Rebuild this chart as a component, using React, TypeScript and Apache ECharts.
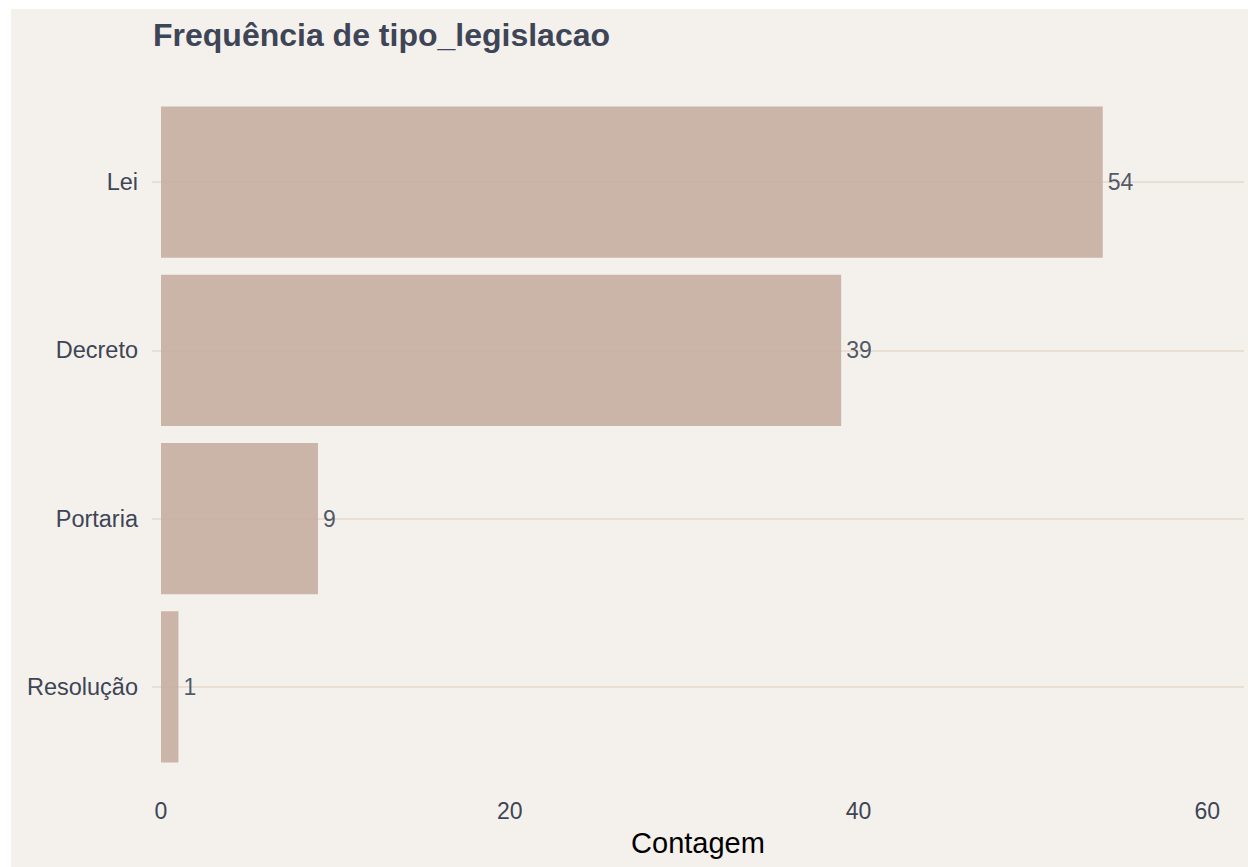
import React, { useEffect, useRef } from "react";
import * as echarts from "echarts";

const categories = ["Lei", "Decreto", "Portaria", "Resolução"];
const counts = [54, 39, 9, 1];
const xTickValues = [0, 20, 40, 60];
const titleText = "Frequência de tipo_legislacao";
const xAxisTitle = "Contagem";

const FONT = "'Liberation Sans', Arial, Helvetica, sans-serif";
const TEXT = "#3D4556";

export default function App() {
  const ref = useRef<HTMLDivElement>(null);
  useEffect(() => {
    if (!ref.current) return;
    const chart = echarts.init(ref.current, null, { renderer: "svg" });
    chart.setOption({
      animation: false,
      backgroundColor: "#F4F1EC",
      textStyle: { fontFamily: FONT },
      title: {
        text: titleText,
        left: 142,
        top: 10,
        padding: 0,
        textStyle: { fontFamily: FONT, fontSize: 32, fontWeight: "bold", color: TEXT, lineHeight: 32 },
      },
      grid: { left: 141, right: 4, top: 89, bottom: 96, containLabel: false },
      xAxis: {
        type: "value",
        min: -0.516,
        max: 62.1,
        name: xAxisTitle,
        nameLocation: "middle",
        nameGap: 57,
        nameTextStyle: { fontFamily: FONT, fontSize: 29, color: "#000000", lineHeight: 29 },
        axisLine: { show: false },
        axisTick: { show: false },
        splitLine: { show: false },
        axisLabel: {
          customValues: xTickValues,
          fontFamily: FONT,
          fontSize: 23,
          lineHeight: 23,
          color: TEXT,
          margin: 28,
        },
      },
      yAxis: {
        type: "category",
        data: categories,
        inverse: true,
        axisLine: { show: false },
        axisTick: { show: false },
        splitLine: { show: false },
        axisLabel: { fontFamily: FONT, fontSize: 23.5, color: TEXT, margin: 14 },
      },
      series: [
        {
          type: "line",
          data: [],
          z: 1,
          silent: true,
          markLine: {
            silent: true,
            z: 1,
            symbol: "none",
            label: { show: false },
            lineStyle: { color: "#EADFD5", width: 2, type: "solid" },
            data: categories.map((c) => ({ yAxis: c })),
          },
        },
        {
          type: "bar",
          data: counts,
          z: 3,
          barCategoryGap: "10%",
          itemStyle: { color: "#C7AEA1", opacity: 0.9 },
          label: {
            show: true,
            position: "right",
            distance: 5,
            fontFamily: FONT,
            fontSize: 23,
            color: TEXT,
          },
        },
      ],
    });
    return () => chart.dispose();
  }, []);
  return (
    <div
      ref={ref}
      style={{ position: "absolute", left: 11, top: 9, width: 1237, height: 858 }}
    />
  );
}
